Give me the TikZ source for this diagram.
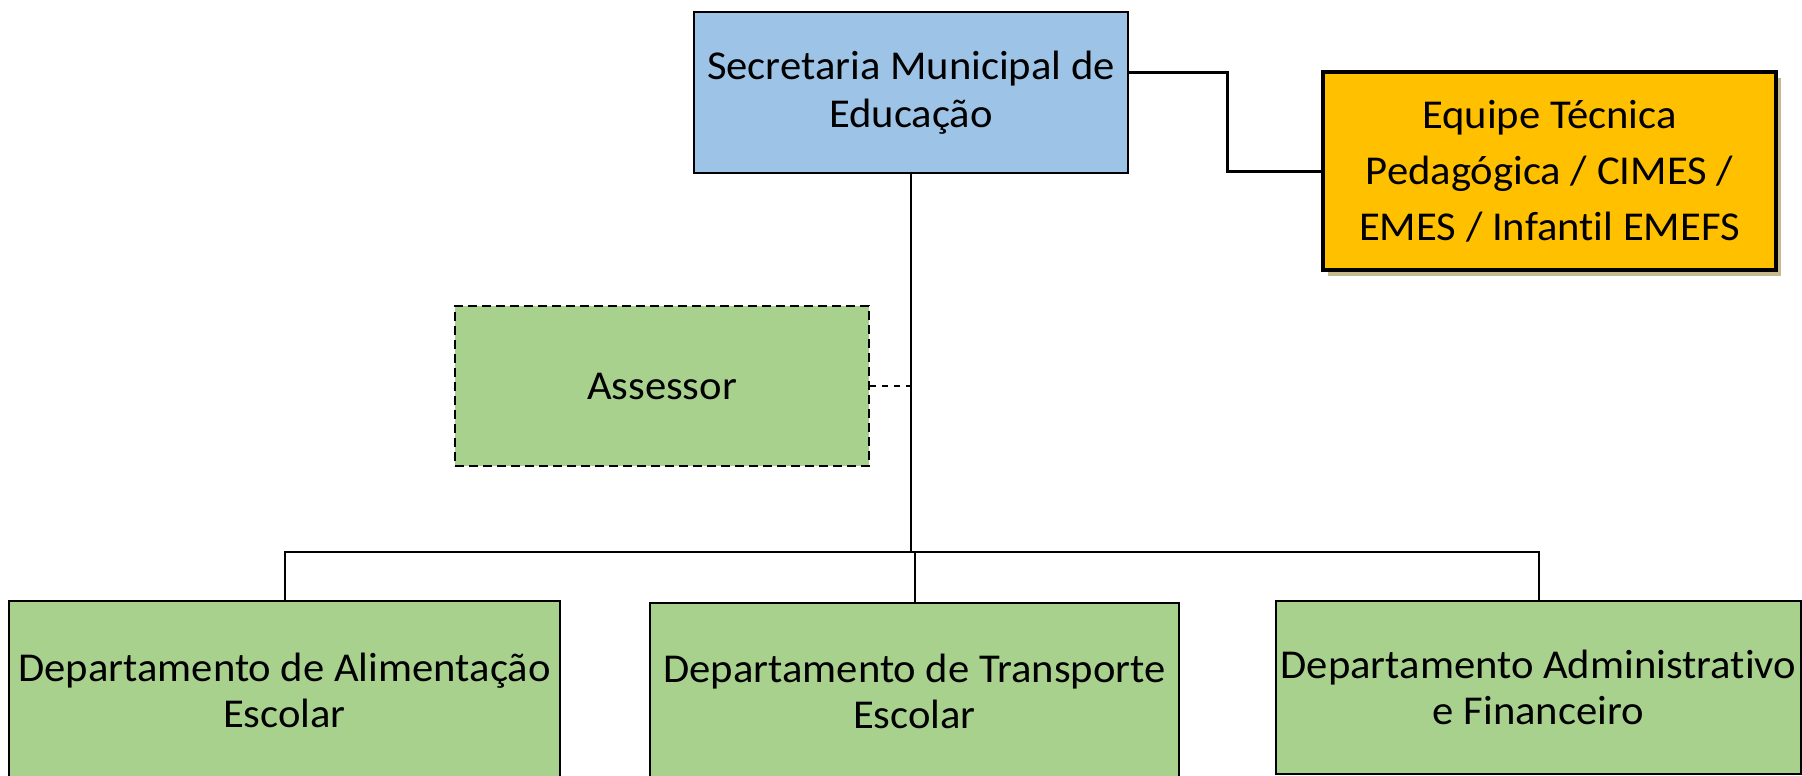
\documentclass[tikz,border=0pt]{standalone}
\usepackage{fontspec}
\setmainfont{Carlito}[Ligatures=NoCommon, FakeStretch=1.04]
\usetikzlibrary{shadows}
\definecolor{bluefill}{RGB}{157,195,230}
\definecolor{orangefill}{RGB}{255,192,0}
\definecolor{greenfill}{RGB}{169,209,142}
\definecolor{shadowc}{RGB}{198,186,140}
\begin{document}
\begin{tikzpicture}[x=1pt,y=-1pt,
  box/.style={draw=black, rectangle, inner sep=0pt, align=center,
    font=\fontsize{41}{48}\selectfont, line width=2.2pt},
  topbox/.style={box, fill=bluefill},
  teambox/.style={box, fill=orangefill, line width=3.5pt,
    font=\fontsize{41}{56}\selectfont,
    drop shadow={shadow xshift=5pt, shadow yshift=-6pt, fill=shadowc, opacity=1}},
  advbox/.style={box, fill=greenfill, dash pattern=on 9pt off 5pt, line width=2pt},
  deptbox/.style={box, fill=greenfill, font=\fontsize{41}{46}\selectfont},
  trunk/.style={draw=black, line width=2.8pt},
  busline/.style={draw=black, line width=2pt},
  elbow/.style={draw=black, line width=3pt},
  advline/.style={draw=black, line width=2pt, dash pattern=on 6pt off 6pt}
]
\useasboundingbox (0,0) rectangle (1802,776);
% nodes
\node[topbox, minimum width=434pt, minimum height=161pt] (sec) at (911,92.5)
  {Secretaria Municipal de\\Educação};
\node[teambox, minimum width=453pt, minimum height=198pt] (equipe) at (1549.5,171)
  {Equipe Técnica\\Pedagógica / CIMES /\\EMES / Infantil EMEFS};
\node[advbox, minimum width=414pt, minimum height=160pt] (assessor) at (662,386)
  {Assessor};
\node[deptbox, minimum width=551pt, minimum height=178pt] (alim) at (284.5,690)
  {Departamento de Alimentação\\Escolar};
\node[deptbox, minimum width=529pt, minimum height=176pt] (transp) at (914.5,691)
  {Departamento de Transporte\\Escolar};
\node[deptbox, minimum width=525pt, minimum height=173pt] (adm) at (1538.5,687.5)
  {Departamento Administrativo\\e Financeiro};
\coordinate (bus) at (911,552);
% connectors
\draw[trunk] (sec.south) -- (bus);
\draw[busline] (alim.north) -- (alim.north |- bus) -- (adm.north |- bus) -- (adm.north);
\draw[busline] (transp.north) -- (transp.north |- bus);
\draw[elbow] ([yshift=19.5pt]sec.east) -- ++(98,0) |- (equipe.west);
\draw[advline] (assessor.east) -- (assessor.east -| bus);
\end{tikzpicture}
\end{document}
